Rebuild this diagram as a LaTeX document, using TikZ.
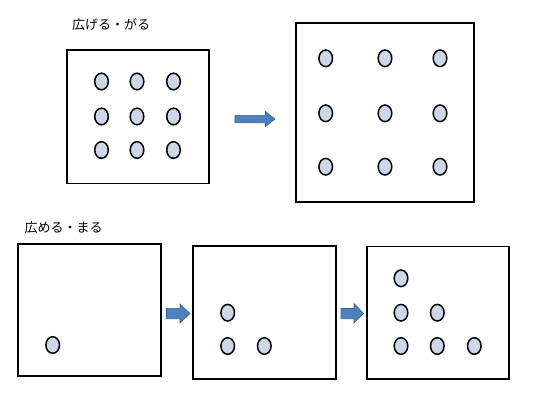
\documentclass[tikz,border=0pt]{standalone}
\usepackage{fontspec}
\newfontfamily\cjk{Noto Sans CJK JP}
\usetikzlibrary{shapes.geometric}
\definecolor{dotfill}{HTML}{CDD7E8}
\definecolor{arrfill}{HTML}{4F7FBF}
\definecolor{arrline}{HTML}{3A5F8C}
\tikzset{
  frame/.style={draw=black, line width=1.8pt, fill=white},
  dot/.style={ellipse, draw=black, line width=1.5pt, fill=dotfill, minimum width=13.6pt, minimum height=16.6pt, inner sep=0pt},
  blockarrow/.style={fill=arrfill, draw=arrline, line width=0.6pt},
  lbl/.style={font=\cjk\fontsize{13}{15}\selectfont, inner sep=0pt, anchor=west}
}
\begin{document}
\begin{tikzpicture}[x=1pt,y=-1pt]
\useasboundingbox (0,0) rectangle (540,400);
% labels
\node[lbl] (t1) at (72,24.5) {広げる・がる};
\node[lbl] (t2) at (24.5,228) {広める・まる};
% top boxes
\draw[frame] (67.3,50) rectangle (209,183.5);
\draw[frame] (295.7,23.3) rectangle (474.3,201.7);
\foreach \x [count=\i] in {101.5,137,173.5}
  \foreach \y [count=\j] in {81.5,116.5,150}
    \node[dot] (a\i\j) at (\x,\y) {};
\foreach \x [count=\i] in {325.7,385,440}
  \foreach \y [count=\j] in {58.3,113.3,166.7}
    \node[dot] (b\i\j) at (\x,\y) {};
% top arrow
\draw[blockarrow] (235,115.3) -- (265.5,115.3) -- (265.5,111.5) -- (275,119) -- (265.5,126.5) -- (265.5,122.7) -- (235,122.7) -- cycle;
% bottom boxes
\draw[frame] (18.3,244) rectangle (160.7,376);
\draw[frame] (193.3,246) rectangle (335.7,379);
\draw[frame] (366.7,246.5) rectangle (509,379);
\node[dot] (c1) at (52.7,345) {};
\node[dot] (d1) at (227.7,312.7) {};
\node[dot] (d2) at (227.7,346) {};
\node[dot] (d3) at (264.3,346) {};
\node[dot] (e1) at (401,278.3) {};
\node[dot] (e2) at (401,312.7) {};
\node[dot] (e3) at (437.3,312.7) {};
\node[dot] (e4) at (401,346) {};
\node[dot] (e5) at (437.3,346) {};
\node[dot] (e6) at (474.3,346) {};
% bottom arrows
\draw[blockarrow] (166.5,308.3) -- (180,308.3) -- (180,304) -- (190,313.5) -- (180,323) -- (180,318.7) -- (166.5,318.7) -- cycle;
\draw[blockarrow] (341,308.5) -- (354,308.5) -- (354,303.5) -- (363.5,313.3) -- (354,323) -- (354,318.7) -- (341,318.7) -- cycle;
\end{tikzpicture}
\end{document}
